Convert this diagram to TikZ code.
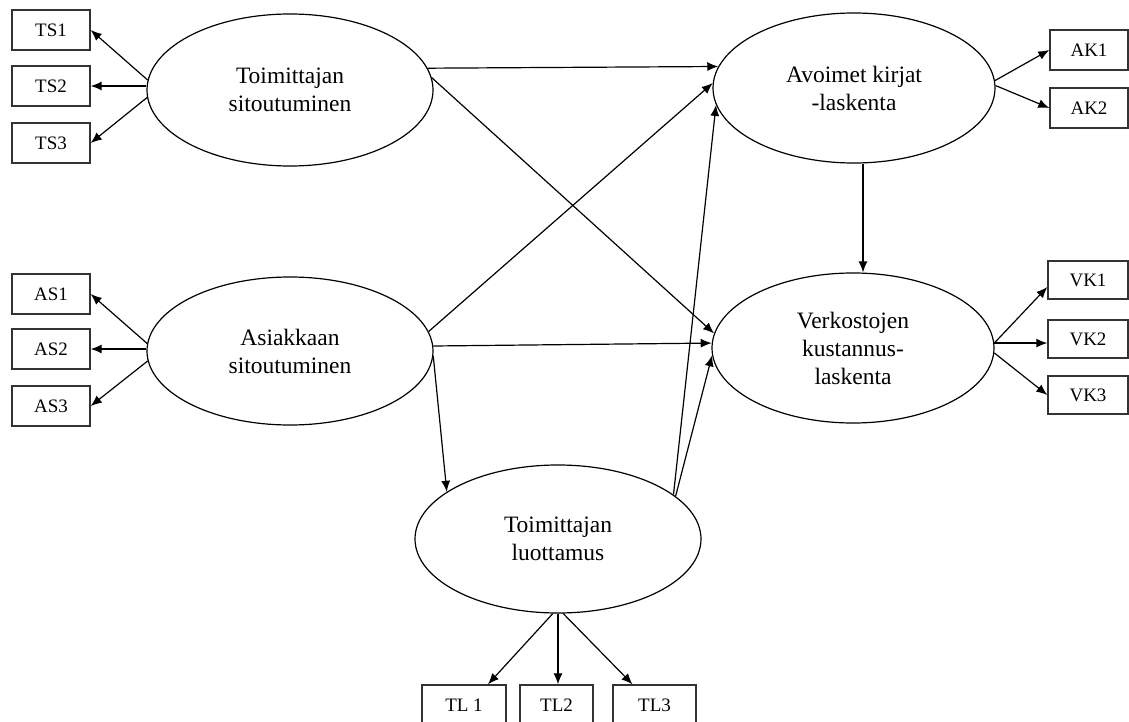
\documentclass[tikz,border=0pt]{standalone}
\usepackage{fontspec}
\setmainfont{Liberation Serif}
\usetikzlibrary{shapes.geometric,arrows.meta,calc}
\begin{document}
\begin{tikzpicture}[x=1pt,y=-1pt,
  lat/.style={ellipse,draw,line width=1.2pt,inner sep=0pt,align=center,
    font=\fontsize{23.5}{28}\selectfont},
  ind/.style={rectangle,draw=black!80,line width=1.4pt,inner sep=0pt,
    minimum width=78pt,minimum height=40pt,font=\fontsize{19}{22}\selectfont},
  arr/.style={-{Latex[length=11pt,width=9pt]},line width=1.2pt}]
\useasboundingbox (0,0) rectangle (1129,722);
\clip (0,0) rectangle (1129,722);

% latent variables
\node[lat,minimum width=286pt,minimum height=152pt] (T) at (290,90) {Toimittajan\\sitoutuminen};
\node[lat,minimum width=286pt,minimum height=148pt] (A) at (290,351) {Asiakkaan\\sitoutuminen};
\node[lat,minimum width=282pt,minimum height=150pt] (AV) at (854,88) {Avoimet kirjat\\-laskenta};
\node[lat,minimum width=282pt,minimum height=150pt] (VK) at (853,348) {Verkostojen\\kustannus-\\laskenta};
\node[lat,minimum width=286pt,minimum height=148pt] (L) at (558,539) {Toimittajan\\luottamus};

% indicators
\node[ind] (TS1) at (51,30) {TS1};
\node[ind] (TS2) at (51,86) {TS2};
\node[ind] (TS3) at (51,143) {TS3};
\node[ind] (AS1) at (51,294) {AS1};
\node[ind] (AS2) at (51,349) {AS2};
\node[ind] (AS3) at (51,406) {AS3};
\node[ind] (AK1) at (1089,50) {AK1};
\node[ind] (AK2) at (1089,108) {AK2};
\node[ind,minimum width=80pt,minimum height=38pt] (VK1) at (1088,280) {VK1};
\node[ind,minimum width=80pt,minimum height=38pt] (VK2) at (1088,339) {VK2};
\node[ind,minimum width=80pt,minimum height=38pt] (VK3) at (1088,395) {VK3};
\node[ind,minimum width=84pt] (TL1) at (464,705) {TL 1};
\node[ind,minimum width=73pt] (TL2) at (556.5,705) {TL2};
\node[ind,minimum width=83pt] (TL3) at (654.5,705) {TL3};

% measurement arrows
\draw[arr] (T.176) -- (TS1.east);
\draw[arr] (T.west |- TS2.east) -- (TS2.east);
\draw[arr] (T.183) -- (TS3.east);
\draw[arr] (A.177) -- (AS1.east);
\draw[arr] (A.west |- AS2.east) -- (AS2.east);
\draw[arr] (A.184) -- (AS3.east);
\draw[arr] (AV.3) -- (AK1.west);
\draw[arr] (AV.1) -- (AK2.west);
\draw[arr] (VK.2) -- ($(VK1.west)+(0,7)$);
\draw[arr] (VK.2) -- (VK.2 -| VK2.west);
\draw[arr] (VK.358) -- (VK3.west);
\draw[arr] (L.266) -- ($(TL1.north)+(24,0)$);
\draw[arr] (L.south) -- (L.south |- TL2.north);
\draw[arr] (L.274) -- ($(TL3.north)+(-22,0)$);

% structural arrows
\draw[arr] (T.9) -- (AV.171.5);
\draw[arr] (T.5.3) -- (VK.174.7);
\draw[arr] (A.8.7) -- (AV.178);
\draw[arr] (A.2.4) -- (VK.178.8);
\draw[arr] (A.358) -- (L.157);
\draw[arr] (L.21) -- (AV.187);
\draw[arr] (L.20) -- (VK.183);
\draw[arr] ($(AV.south)+(9,0)$) -- ($(VK.north)+(10,0)$);
\end{tikzpicture}
\end{document}
